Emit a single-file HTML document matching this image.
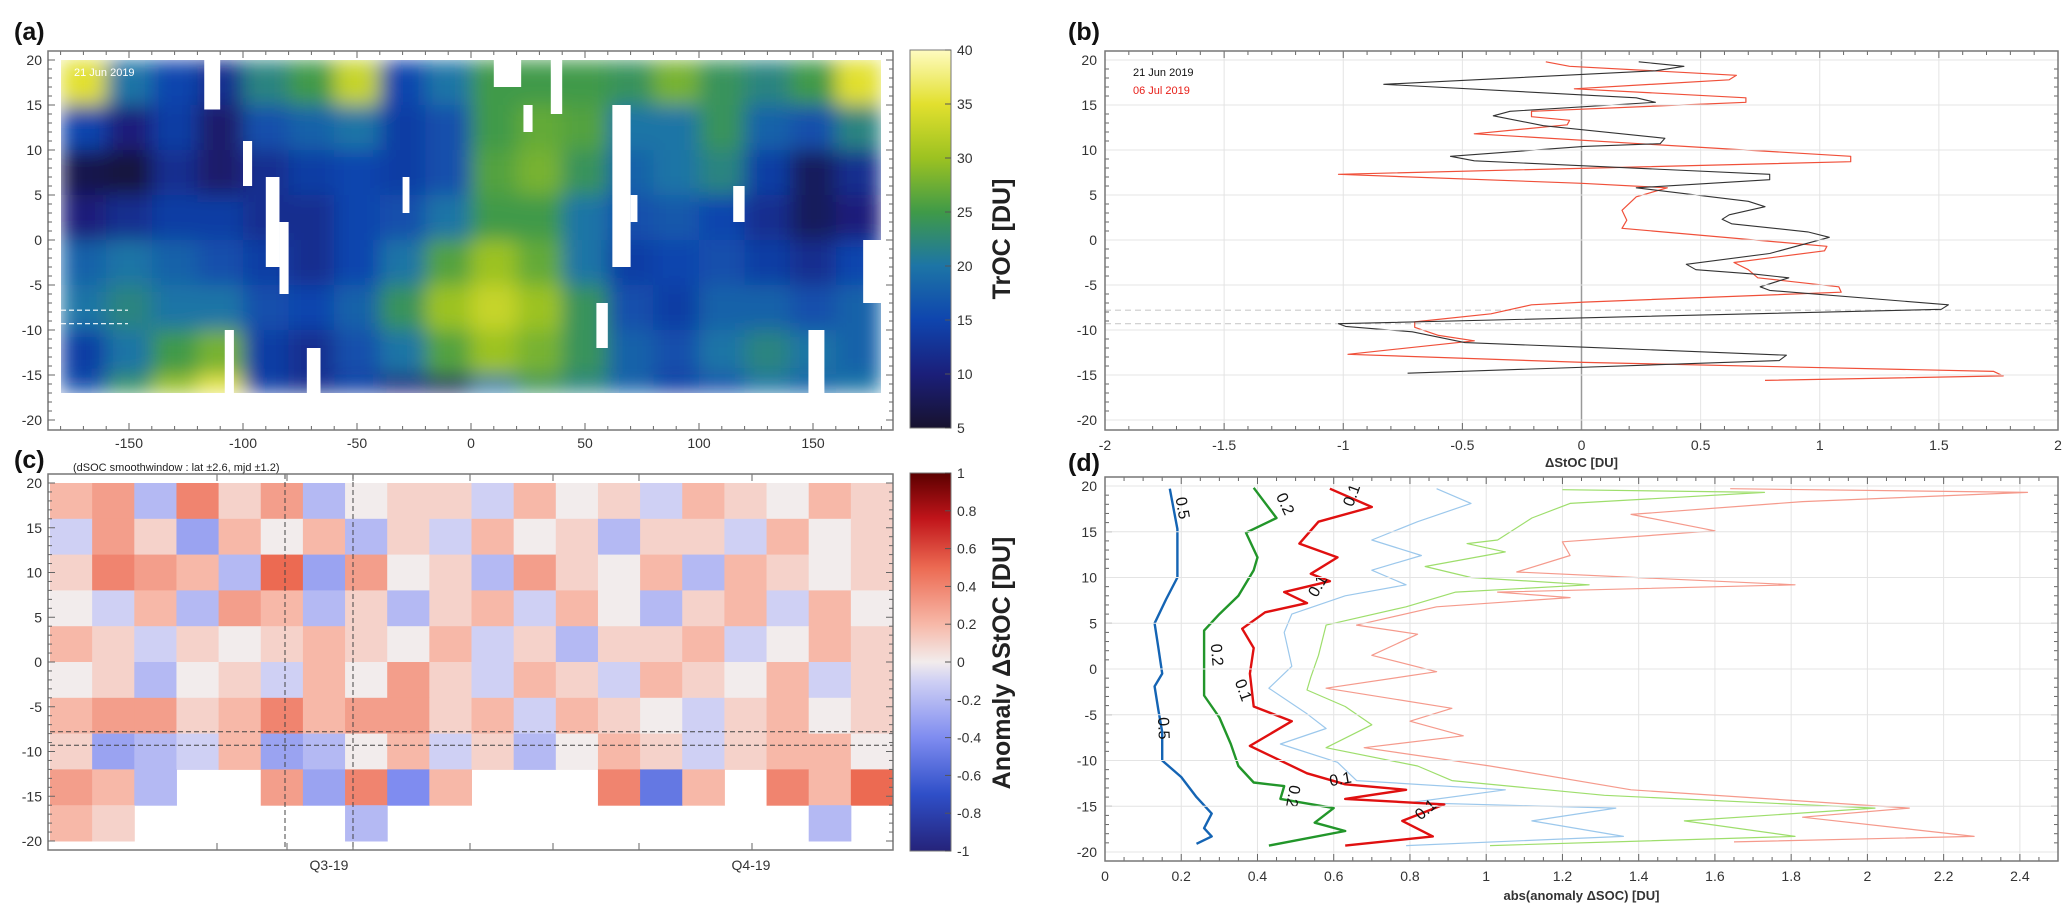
<!DOCTYPE html>
<html><head><meta charset="utf-8">
<style>
html,body{margin:0;padding:0;background:#fff;}
svg{display:block;font-family:"Liberation Sans",sans-serif;}
.tk{font-size:14px;fill:#333;}
.pl{font-size:25px;font-weight:bold;fill:#111;}
</style></head>
<body>
<svg id="fig" width="2067" height="909" viewBox="0 0 2067 909" xmlns="http://www.w3.org/2000/svg">
<defs>
<linearGradient id="gA" x1="0" y1="1" x2="0" y2="0">
<stop offset="0" stop-color="#17122e"/><stop offset="0.143" stop-color="#1b1f7a"/><stop offset="0.286" stop-color="#0f45ae"/>
<stop offset="0.429" stop-color="#1d75a6"/><stop offset="0.571" stop-color="#3f9a48"/><stop offset="0.714" stop-color="#9cc221"/>
<stop offset="0.857" stop-color="#e2e02e"/><stop offset="1" stop-color="#fffbc0"/></linearGradient>
<linearGradient id="gC" x1="0" y1="1" x2="0" y2="0">
<stop offset="0" stop-color="#25237a"/><stop offset="0.15" stop-color="#2f4fc8"/><stop offset="0.3" stop-color="#7f8cf0"/>
<stop offset="0.45" stop-color="#cfd0f4"/><stop offset="0.5" stop-color="#f2ecec"/><stop offset="0.6" stop-color="#f7b8a8"/>
<stop offset="0.75" stop-color="#ec6a52"/><stop offset="0.88" stop-color="#c0141a"/><stop offset="1" stop-color="#5c0000"/></linearGradient>
<clipPath id="clipA"><rect x="61" y="60" width="820" height="333"/></clipPath>
<filter id="blurA" x="0" y="0" width="1" height="1"><feGaussianBlur stdDeviation="10" edgeMode="duplicate"/></filter>
</defs>
<g id="root"></g>
</svg>
<script>
// ---------- Panel (a) data: TrOC [DU], 20° lon columns x lat bands ----------
const lonEdgesA = [-180,-160,-140,-120,-100,-80,-60,-40,-20,0,20,40,60,80,100,120,140,160,180];
const latEdgesA = [20,15,10,5,0,-5,-10,-15,-17];
const trocRow1 = [35,20,15,12,22,25,33,15,20,25,25,25,24,28,24,22,25,35];
const trocRow2 = [15,10,14,9,16,18,20,14,16,25,27,26,20,20,24,18,16,22];
const trocRow3 = [7,6,12,9,12,14,15,14,16,26,28,24,18,20,22,14,8,12];
const trocRow4 = [10,12,14,14,12,12,15,16,20,25,25,20,16,17,15,12,8,10];
const trocRow5 = [18,20,18,16,14,12,15,20,26,30,27,20,14,15,16,14,12,15];
const trocRow6 = [20,22,20,20,16,15,18,24,30,33,30,24,16,14,18,18,16,18];
const trocRow7 = [14,20,25,28,14,12,16,20,26,30,28,24,18,16,20,22,20,18];
const trocRow8 = [16,24,30,36,14,12,14,10,8,20,24,22,18,14,16,20,18,20];
const trocRows = [trocRow1,trocRow2,trocRow3,trocRow4,trocRow5,trocRow6,trocRow7,trocRow8];
// missing-data patches: [lonWest, lonEast, latNorth, latSouth]
const missingA = [[-117,-110,20,14.5],[-100,-96,11,6],[-90,-84,7,-3],[-84,-80,2,-6],[-30,-27,7,3],[10,22,20,17],[23,27,15,12],[35,40,20,14],[62,70,15,-3],[70,73,5,2],[115,120,6,2],[55,60,-7,-12],[-72,-66,-12,-17],[-108,-104,-10,-17],[148,155,-10,-17],[172,180,0,-7]];
const cbTicksA = [5,10,15,20,25,30,35,40];
const lonTicks = [-150,-100,-50,0,50,100,150];
const latTicks = [20,15,10,5,0,-5,-10,-15,-20];

// ---------- Panel (b) data ----------
const latB1 = [19.8,19.3,18.8,17.3,15.8,15.3,14.3,13.8,12.7,11.3,10.7,10.4,9.3,8.8,7.3,6.7,5.8,4.3,3.7,2.8,2.3,1.8,0.9,0.3,-1.5,-2.7,-3.3,-3.8,-4.2,-5.2,-5.6,-7.2,-7.7,-9.3,-9.6,-10.2,-11.4,-11.9,-12.8,-13.4,-14.8];
const stocJun = [0.24,0.43,0.31,-0.83,0.23,0.31,-0.30,-0.37,-0.16,0.35,0.33,0.01,-0.55,-0.45,0.79,0.79,0.23,0.70,0.77,0.62,0.59,0.63,0.95,1.04,0.79,0.44,0.48,0.73,0.87,0.75,0.79,1.54,1.51,-1.02,-0.99,-0.71,-0.49,0,0.86,0.83,-0.73];
const latB2 = [19.8,19.3,18.3,17.8,16.8,15.8,15.3,14.3,13.7,13.3,12.8,11.8,9.3,8.7,7.3,6.3,5.8,4.8,3.3,2.2,1.3,-0.7,-1.2,-2.5,-3.3,-4.2,-5.2,-5.8,-6.9,-7.2,-8.2,-9.1,-9.7,-10.6,-11.2,-12.7,-13.6,-14.6,-15.1,-15.6];
const stocJul = [-0.15,-0.05,0.65,0.62,-0.03,0.69,0.69,-0.21,-0.21,-0.05,-0.06,-0.45,1.13,1.13,-1.02,0,0.36,0.23,0.17,0.19,0.17,1.03,1.02,0.64,0.70,0.74,1.08,1.09,0.01,-0.21,-0.38,-0.70,-0.70,-0.60,-0.45,-0.98,0.01,1.73,1.77,0.77];
const ticksB = [-2,-1.5,-1,-0.5,0,0.5,1,1.5,2];
const refLats = [-7.8,-9.3];

// ---------- Panel (c) data: anomaly ΔStOC, 20 columns x 4° lat bands ----------
const latEdgesC = [20,16,12,8,4,0,-4,-8,-12,-16,-20];
const anomR1 = [0.2,0.3,-0.2,0.4,0.1,0.3,-0.2,0.0,0.1,0.1,-0.1,0.2,0.0,0.1,-0.1,0.2,0.1,0.0,0.2,0.1];
const anomR2 = [-0.1,0.3,0.1,-0.3,0.2,0.0,0.2,-0.2,0.1,-0.1,0.2,0.0,0.1,-0.2,0.1,0.1,-0.1,0.2,0.0,0.1];
const anomR3 = [0.1,0.4,0.3,0.2,-0.2,0.5,-0.3,0.3,0.0,0.1,-0.2,0.3,0.1,0.0,0.2,-0.2,0.2,0.1,0.0,0.1];
const anomR4 = [0.0,-0.1,0.2,-0.2,0.3,0.2,-0.2,0.1,-0.2,0.1,0.2,-0.1,0.2,0.0,-0.2,0.1,0.2,-0.1,0.2,0.0];
const anomR5 = [0.2,0.1,-0.1,0.1,0.0,0.1,0.2,0.1,0.0,0.2,-0.1,0.1,-0.2,0.1,0.1,0.2,-0.1,0.0,0.2,0.1];
const anomR6 = [0.0,0.1,-0.2,0.0,0.1,-0.1,0.2,0.0,0.3,0.1,-0.1,0.2,0.1,-0.1,0.2,0.1,0.0,0.2,-0.1,0.1];
const anomR7 = [0.2,0.3,0.3,0.1,0.2,0.4,0.2,0.3,0.3,0.1,0.2,-0.1,0.2,0.1,0.0,-0.1,0.1,0.2,0.0,0.1];
const anomR8 = [0.1,-0.3,-0.2,-0.1,0.2,-0.3,-0.2,0.0,0.2,-0.1,0.1,-0.2,0.0,0.2,0.1,-0.1,0.1,0.2,0.2,0.0];
const anomR9 = [0.3,0.2,-0.2,null,null,0.3,-0.3,0.4,-0.4,0.2,null,null,null,0.4,-0.5,0.2,null,0.4,0.2,0.5];
const anomR10 = [0.2,0.1,null,null,null,null,null,-0.2,null,null,null,null,null,null,null,null,null,null,-0.2,null];
const anomRows = [anomR1,anomR2,anomR3,anomR4,anomR5,anomR6,anomR7,anomR8,anomR9,anomR10];
const cbTicksC = [1,0.8,0.6,0.4,0.2,0,-0.2,-0.4,-0.6,-0.8,-1];
const quarterLabels = ["Q3-19","Q4-19"];

// ---------- Panel (d) data ----------
const latBlue = [19.7,15.3,10,7.6,5,2.3,-0.5,-1.9,-4.5,-6.9,-10,-11.8,-14,-15.8,-17.4,-18.3,-19.1];
const absBlue = [0.17,0.19,0.19,0.16,0.13,0.14,0.15,0.13,0.14,0.15,0.15,0.20,0.24,0.28,0.26,0.28,0.24];
const latGreen = [19.8,16.5,14.9,12.2,10.8,8,6,4.2,0.7,-2.9,-5.3,-8.2,-10.6,-12.4,-12.8,-14.2,-15.2,-16.8,-17.7,-19.3];
const absGreen = [0.39,0.45,0.37,0.40,0.39,0.35,0.30,0.26,0.26,0.26,0.30,0.33,0.35,0.39,0.47,0.46,0.60,0.55,0.63,0.43];
const latRed = [19.7,17.7,16.1,13.7,12.2,10.4,9.6,8.4,7.2,6.2,4.4,2.3,-0.5,-4.1,-5.7,-8.4,-11.4,-12.6,-13.2,-14.2,-14.8,-16.6,-18.3,-19.3];
const absRed = [0.59,0.70,0.56,0.51,0.61,0.54,0.59,0.47,0.53,0.42,0.36,0.39,0.38,0.39,0.49,0.38,0.53,0.63,0.79,0.63,0.89,0.78,0.86,0.63];
const latLBlue = [19.7,18.1,16.1,14.1,12.4,10.8,9.2,8.0,6.0,4.0,0.3,-2.1,-4.9,-6.5,-8.2,-10.2,-12.2,-13.2,-14.6,-15.2,-16.6,-18.3,-19.3];
const absLBlue = [0.87,0.96,0.82,0.70,0.83,0.70,0.79,0.63,0.49,0.47,0.49,0.43,0.53,0.58,0.46,0.61,0.66,1.05,0.80,1.34,1.12,1.36,0.79];
const latLGreen = [19.6,19.3,18.1,16.5,14.1,13.7,12.8,11.2,10.0,9.2,8.4,6.8,4.8,1.5,-0.9,-2.3,-4.1,-6.1,-8.6,-10.6,-12.2,-13.8,-15.2,-16.6,-18.3,-19.3];
const absLGreen = [1.20,1.73,1.22,1.12,1.03,0.95,1.05,0.84,0.96,1.27,0.92,0.79,0.58,0.56,0.54,0.53,0.63,0.70,0.58,0.82,0.91,1.31,2.02,1.52,1.81,1.01];
const latLRed = [19.7,19.3,18.3,16.9,15.1,13.9,12.4,10.6,9.2,8.4,7.8,6.8,4.8,3.8,1.5,-0.3,-2.1,-4.3,-5.7,-7.3,-8.6,-10.6,-13.2,-15.2,-16.2,-17.5,-18.3,-18.9];
const absLRed = [1.64,2.42,1.83,1.38,1.60,1.20,1.22,1.08,1.81,1.03,1.22,0.87,0.66,0.82,0.70,0.87,0.58,0.91,0.80,0.94,0.68,1.01,1.38,2.11,1.83,2.11,2.28,1.65];
const ticksD = [0,0.2,0.4,0.6,0.8,1,1.2,1.4,1.6,1.8,2,2.2,2.4];

// ---------- helpers ----------
const NS = "http://www.w3.org/2000/svg";
const root = document.getElementById("root");
function mk(tag, attrs, parent){ const e=document.createElementNS(NS,tag); for(const k in attrs) e.setAttribute(k,attrs[k]); (parent||root).appendChild(e); return e; }
function txt(x,y,s,cls,extra,parent){ const t=mk("text",Object.assign({x:x,y:y,class:cls||"tk"},extra||{}),parent); t.textContent=s; return t; }
function lerpColor(stops,v){
  if(v<=stops[0][0]) return "rgb("+stops[0][1].join(",")+")";
  for(let i=1;i<stops.length;i++){ if(v<=stops[i][0]){ const a=stops[i-1],b=stops[i],f=(v-a[0])/(b[0]-a[0]);
    const c=a[1].map((x,j)=>Math.round(x+(b[1][j]-x)*f)); return "rgb("+c.join(",")+")"; } }
  return "rgb("+stops[stops.length-1][1].join(",")+")";
}
const cmapA=[[5,[23,18,46]],[10,[27,31,122]],[15,[15,69,174]],[20,[29,117,166]],[25,[63,154,72]],[30,[156,194,33]],[35,[226,224,46]],[40,[255,251,192]]];
const cmapC=[[-1,[37,35,122]],[-0.7,[47,79,200]],[-0.4,[127,140,240]],[-0.1,[207,208,244]],[0,[242,236,236]],[0.2,[247,184,168]],[0.5,[236,106,82]],[0.76,[192,20,26]],[1,[92,0,0]]];

// scales
const xA = lon => 471 + lon*2.28;
const yA = lat => 60 + (20-lat)*9;
const xB = v => 1105 + (v+2)*238.25;
const xC = i => 50 + i*(843/20);
const yC = lat => 483 + (20-lat)*8.95;
const xD = v => 1105 + v*381.2;
const yD = lat => 486 + (20-lat)*9.15;

function frame(name,x0,y0,x1,y1){ const r=mk("rect",{x:x0,y:y0,width:x1-x0,height:y1-y0,fill:"none",stroke:"#777","stroke-width":1.5});   }
function yTicks(x0,x1,yf,labelX,grid){
  for(let l=-20;l<=20;l++){ const y=yf(l); const len=(l%5===0)?7:4;
    mk("line",{x1:x0,y1:y,x2:x0+len,y2:y,stroke:"#666"}); mk("line",{x1:x1,y1:y,x2:x1-len,y2:y,stroke:"#666"}); }
  latTicks.forEach(l=>{ const y=yf(l);
    if(grid) mk("line",{x1:x0,y1:y,x2:x1,y2:y,stroke:"#e4e4e4"});
    const t=txt(labelX,y+5,String(l),"tk",{"text-anchor":"end"});   });
}

// ================= Panel (a) =================
const gA = mk("g",{});  
const hmA = mk("g",{"clip-path":"url(#clipA)"},gA);
const hmAb = mk("g",{filter:"url(#blurA)"},hmA);
 
trocRows.forEach((row,r)=>{ row.forEach((v,c)=>{
  const x0=xA(lonEdgesA[c]), x1=xA(lonEdgesA[c+1]), y0=yA(latEdgesA[r]), y1=yA(latEdgesA[r+1]);
  const cell=mk("rect",{x:x0,y:y0,width:x1-x0+0.5,height:y1-y0+0.5,fill:lerpColor(cmapA,v)},hmAb);
   
});});
missingA.forEach(m=>{ const r=mk("rect",{x:xA(m[0]),y:yA(m[2]),width:xA(m[1])-xA(m[0]),height:yA(m[3])-yA(m[2]),fill:"#fff"},hmA);
    });
frame('panel-a-frame',48,51,893,430);
for(let lon=-180;lon<=180;lon+=10){ const x=xA(lon), len=(lon%50===0)?7:4;
  mk("line",{x1:x,y1:51,x2:x,y2:51+len,stroke:"#666"},gA); mk("line",{x1:x,y1:430,x2:x,y2:430-len,stroke:"#666"},gA); }
lonTicks.forEach(l=>{ const t=txt(xA(l),448,String(l),"tk",{"text-anchor":"middle"},gA);   });
yTicks(48,893,yA,42,false);
refLats.forEach(l=>{ const ln=mk("line",{x1:61,y1:yA(l),x2:128,y2:yA(l),stroke:"#fff","stroke-dasharray":"5,3","stroke-width":1.2},gA);   });
{ const t=txt(74,76,"21 Jun 2019","tk",{style:"font-size:11px;fill:#fff"},gA);   }
{ const t=txt(14,40,"(a)","pl",{},gA);   }
{ const cb=mk("rect",{x:910,y:50,width:41,height:378,fill:"url(#gA)",stroke:"#777"},gA);   }
cbTicksA.forEach(v=>{ const y=428-(v-5)*10.8; mk("line",{x1:945,y1:y,x2:951,y2:y,stroke:"#555"},gA);
  const t=txt(957,y+5,String(v),"tk",{},gA);   });
{ const t=txt(0,0,"TrOC [DU]","tk",{transform:"translate(1010,239) rotate(-90)","text-anchor":"middle",style:"font-size:25px;font-weight:bold;fill:#222"},gA);   }

// ================= Panel (b) =================
const gB = mk("g",{});  
ticksB.forEach(v=>{ mk("line",{x1:xB(v),y1:51,x2:xB(v),y2:430,stroke:"#e4e4e4"},gB); });
yTicks(1105,2058,yA,1097,true);
for(let i=0;i<=40;i++){ const v=-2+i*0.1, x=xB(v), len=(i%5===0)?7:4;
  mk("line",{x1:x,y1:51,x2:x,y2:51+len,stroke:"#666"},gB); mk("line",{x1:x,y1:430,x2:x,y2:430-len,stroke:"#666"},gB); }
mk("line",{x1:xB(0),y1:51,x2:xB(0),y2:430,stroke:"#999","stroke-width":1.5},gB);
refLats.forEach(l=>{ const ln=mk("line",{x1:1105,y1:yA(l),x2:2058,y2:yA(l),stroke:"#ccc","stroke-dasharray":"6,4","stroke-width":1.2},gB);   });
function poly(vals,lats,xf,yf,color,w,name,parent){ const p=vals.map((v,i)=>xf(v).toFixed(1)+","+yf(lats[i]).toFixed(1)).join(" ");
  const e=mk("polyline",{points:p,fill:"none",stroke:color,"stroke-width":w,"stroke-linejoin":"round"},parent);
    return e; }
poly(stocJul,latB2,xB,yA,"#f0503a",1.2,"series-06-jul-2019",gB);
poly(stocJun,latB1,xB,yA,"#333",1.1,"series-21-jun-2019",gB);
frame('panel-b-frame',1105,51,2058,430);
ticksB.forEach(v=>{ const t=txt(xB(v),450,String(v),"tk",{"text-anchor":"middle"},gB);   });
{ const t=txt(xB(0),467,"\u0394StOC [DU]","tk",{"text-anchor":"middle",style:"font-size:13px;font-weight:bold"},gB);   }
{ const t=txt(1133,76,"21 Jun 2019","tk",{style:"font-size:11px;fill:#111"},gB);   }
{ const t=txt(1133,94,"06 Jul 2019","tk",{style:"font-size:11px;fill:#e8201a"},gB);   }
{ const t=txt(1068,40,"(b)","pl",{},gB);   }

// ================= Panel (c) =================
const gC = mk("g",{});  
anomRows.forEach((row,r)=>{ row.forEach((v,c)=>{ if(v===null) return;
  const y0=yC(latEdgesC[r]), y1=yC(latEdgesC[r+1]);
  const cell=mk("rect",{x:xC(c),y:y0,width:xC(c+1)-xC(c)+0.5,height:y1-y0+0.5,fill:lerpColor(cmapC,v)},gC);
   
});});
[217,287,353,470,553,639,752].forEach(x=>{ mk("line",{x1:x,y1:474,x2:x,y2:481,stroke:"#666"},gC); mk("line",{x1:x,y1:850,x2:x,y2:843,stroke:"#666"},gC); });
[285,353].forEach(x=>{ const ln=mk("line",{x1:x,y1:474,x2:x,y2:850,stroke:"#444","stroke-dasharray":"5,3"},gC);   });
refLats.forEach(l=>{ const ln=mk("line",{x1:50,y1:yC(l),x2:893,y2:yC(l),stroke:"#444","stroke-dasharray":"5,3"},gC);   });
frame('panel-c-frame',48,474,893,850);
yTicks(48,893,yC,42,false);
[[quarterLabels[0],329],[quarterLabels[1],751]].forEach(q=>{ const t=txt(q[1],870,q[0],"tk",{"text-anchor":"middle"},gC);   });
{ const t=txt(14,468,"(c)","pl",{},gC);   }
{ const t=txt(73,471,"(dSOC smoothwindow : lat \u00b12.6, mjd \u00b11.2)","tk",{style:"font-size:11px;fill:#222"},gC);   }
{ const cb=mk("rect",{x:910,y:473,width:41,height:378,fill:"url(#gC)",stroke:"#777"},gC);   }
cbTicksC.forEach(v=>{ const y=662-v*189; mk("line",{x1:945,y1:y,x2:951,y2:y,stroke:"#555"},gC);
  const t=txt(957,y+5,String(v),"tk",{},gC);   });
{ const t=txt(0,0,"Anomaly \u0394StOC [DU]","tk",{transform:"translate(1010,663) rotate(-90)","text-anchor":"middle",style:"font-size:25px;font-weight:bold;fill:#222"},gC);   }

// ================= Panel (d) =================
const gD = mk("g",{});  
ticksD.forEach(v=>{ mk("line",{x1:xD(v),y1:477,x2:xD(v),y2:861,stroke:"#e4e4e4"},gD); });
yTicks(1105,2058,yD,1097,true);
for(let i=0;i<=50;i++){ const v=i*0.05, x=xD(v), len=(i%4===0)?7:4;
  mk("line",{x1:x,y1:477,x2:x,y2:477+len,stroke:"#666"},gD); mk("line",{x1:x,y1:861,x2:x,y2:861-len,stroke:"#666"},gD); }
poly(absLRed,latLRed,xD,yD,"#f59a8c",1.2,"quantile-line-light-red",gD);
poly(absLGreen,latLGreen,xD,yD,"#9ede6c",1.2,"quantile-line-light-green",gD);
poly(absLBlue,latLBlue,xD,yD,"#9cc8ec",1.2,"quantile-line-light-blue",gD);
poly(absRed,latRed,xD,yD,"#e01010",2.4,"contour-0.1",gD);
poly(absGreen,latGreen,xD,yD,"#22962a",2.4,"contour-0.2",gD);
poly(absBlue,latBlue,xD,yD,"#1464b4",2.4,"contour-0.5",gD);
const cLabels=[["0.5",0.19,17.5,80],["0.5",0.14,-6.5,88],["0.2",0.46,17.8,65],["0.2",0.28,1.5,85],["0.2",0.48,-13.8,100],["0.1",0.66,18.8,-70],["0.1",0.57,8.8,-60],["0.1",0.35,-2.5,70],["0.1",0.62,-12.6,-10],["0.1",0.85,-15.8,-40]];
cLabels.forEach(c=>{ const t=txt(0,0,c[0],"tk",{transform:"translate("+xD(c[1]).toFixed(1)+","+yD(c[2]).toFixed(1)+") rotate("+c[3]+")","text-anchor":"middle",style:"font-size:16px;fill:#111"},gD);
    });
frame('panel-d-frame',1105,477,2058,861);
ticksD.forEach(v=>{ const t=txt(xD(v),881,String(v),"tk",{"text-anchor":"middle"},gD);   });
{ const t=txt(xD(1.25),900,"abs(anomaly \u0394SOC) [DU]","tk",{"text-anchor":"middle",style:"font-size:13px;font-weight:bold"},gD);   }
{ const t=txt(1068,471,"(d)","pl",{},gD);   }
</script>
</body></html>
